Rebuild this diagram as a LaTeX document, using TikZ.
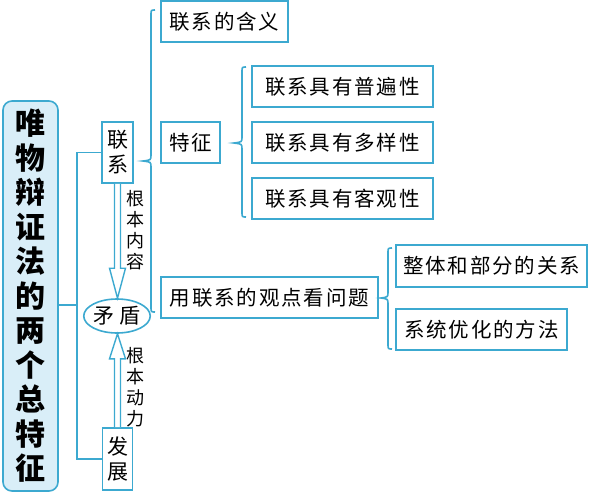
\documentclass[tikz,border=0pt]{standalone}
\usepackage{fontspec}
\usetikzlibrary{calc,shapes.geometric}
\newfontfamily\cjk{Noto Sans CJK SC}[LetterSpace=9]
\newfontfamily\cjkm{Noto Sans CJK SC}
\definecolor{lb}{HTML}{3CA9D0}
\definecolor{lfill}{HTML}{D9EEF8}
\newcommand\drawbrace[5]{% X, y1, ym, y2, a
  \draw[bline] (#1+4,#2) .. controls (#1,#2) .. (#1,#2+5) -- (#1,#3-6)
    .. controls (#1,#3-1) .. (#1-#5,#3) .. controls (#1,#3+1) .. (#1,#3+6)
    -- (#1,#4-5) .. controls (#1,#4) .. (#1+4,#4);}
\begin{document}
\begin{tikzpicture}[x=1pt,y=-1pt,
  bline/.style={draw=lb,line width=1.6pt},
  hbox/.style={draw=lb,line width=1.6pt,fill=white,minimum height=41pt,inner sep=0pt,
     font=\cjk\fontsize{20.5}{22}\selectfont},
  vbox/.style={draw=lb,line width=1.6pt,fill=white,inner sep=0pt,align=center,
     font=\cjkm\fontsize{21}{25}\selectfont},
  lbl/.style={inner sep=0pt,align=center,font=\cjkm\fontsize{18}{21}\selectfont},
  hollow/.style={draw=lb,line width=1.4pt,fill=white,line join=miter}
]
\useasboundingbox (0,0) rectangle (589,496);
% main box
\node[draw=lb,line width=1.6pt,fill=lfill,rounded corners=9pt,minimum width=55pt,
  minimum height=390pt,inner sep=0pt,align=center,
  font=\cjkm\bfseries\fontsize{30}{34.5}\selectfont] (main) at (30.5,296)
  {唯\\物\\辩\\证\\法\\的\\两\\个\\总\\特\\征};
% left column
\node[vbox,minimum width=31pt,minimum height=61pt] (lianxi) at (117.5,152.5) {联\\系};
\node[vbox,minimum width=30pt,minimum height=62pt] (fazhan) at (117.5,459) {发\\展};
\node[ellipse,draw=lb,line width=1.6pt,fill=white,minimum width=65pt,minimum height=34pt,
  inner sep=0pt,font=\cjkm\fontsize{21}{22}\selectfont] (maodun) at (117,316) {矛\hspace{5pt}盾};
\node[lbl] (l1) at (135,230.5) {根\\本\\内\\容};
\node[lbl] (l2) at (135,387) {根\\本\\动\\力};
% connectors on left
\coordinate (vx) at (77,305);
\draw[bline] (main.east|-vx) -- (vx);
\draw[bline] (lianxi.west) -| (vx) |- (fazhan.west);
% hollow arrows
\draw[hollow] let \p1=(lianxi.south), \p2=(maodun.north) in
  (\x1-3pt,\y1) -- (\x1-3pt,\y2+30pt) -- (\x1-8pt,\y2+30pt) -- (\x1,\y2)
  -- (\x1+8pt,\y2+30pt) -- (\x1+3pt,\y2+30pt) -- (\x1+3pt,\y1);
\draw[hollow] let \p1=(fazhan.north), \p2=(maodun.south) in
  (\x1-3pt,\y1) -- (\x1-3pt,\y2-25pt) -- (\x1-8pt,\y2-25pt) -- (\x1,\y2)
  -- (\x1+8pt,\y2-25pt) -- (\x1+3pt,\y2-25pt) -- (\x1+3pt,\y1);
% right part
\node[hbox,minimum width=127pt] (hanyi) at (224.5,21.5) {联系的含义};
\node[hbox,minimum width=59pt] (tezheng) at (190.5,142.5) {特征};
\node[hbox,minimum width=181pt] (p1) at (342.5,86.5) {联系具有普遍性};
\node[hbox,minimum width=181pt] (p2) at (342.5,142.5) {联系具有多样性};
\node[hbox,minimum width=181pt] (p3) at (342.5,198.5) {联系具有客观性};
\node[hbox,minimum width=217pt] (yong) at (269.5,297.5) {用联系的观点看问题};
\node[hbox,minimum width=191pt,minimum height=42pt] (z1) at (491.5,266) {整体和部分的关系};
\node[hbox,minimum width=171pt] (z2) at (481.5,329.5) {系统优化的方法};
% braces
\drawbrace{151}{10}{161}{312}{8}
\drawbrace{242}{67}{143}{217}{8}
\drawbrace{388}{248}{298}{349}{7}
\end{tikzpicture}
\end{document}
